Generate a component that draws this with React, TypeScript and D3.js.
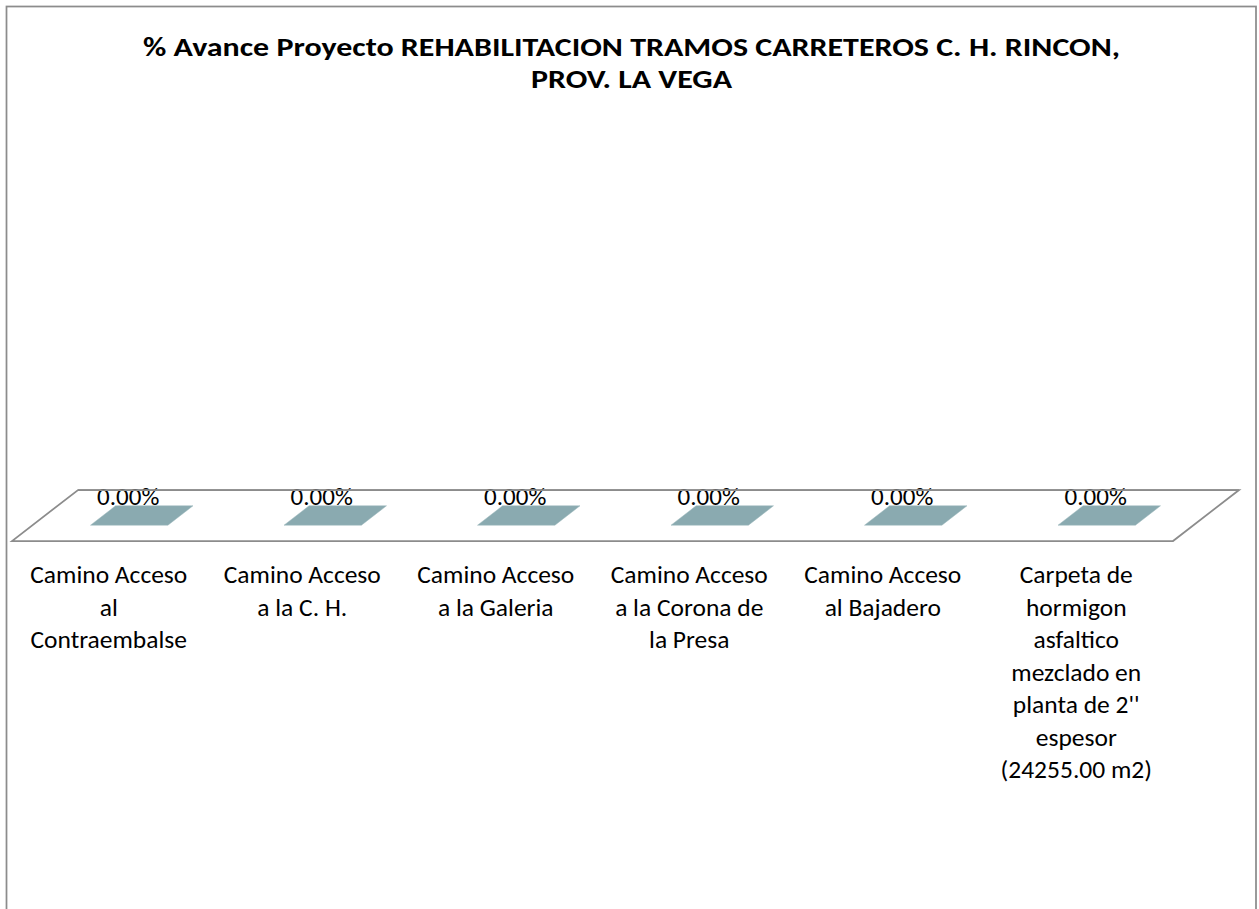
import React from "react";
import * as d3 from "d3";

const titleLines = [
  "% Avance Proyecto REHABILITACION TRAMOS CARRETEROS C. H. RINCON,",
  "PROV. LA VEGA",
];
const titleWidths = [977, 201];

const categories = [
  "Camino Acceso\nal\nContraembalse",
  "Camino Acceso\na la C. H.",
  "Camino Acceso\na la Galeria",
  "Camino Acceso\na la Corona de\nla Presa",
  "Camino Acceso\nal Bajadero",
  "Carpeta de\nhormigon\nasfaltico\nmezclado en\nplanta de 2''\nespesor\n(24255.00 m2)",
];

const values = [0, 0, 0, 0, 0, 0];

const W = 1259;
const H = 909;
const DX = 66;
const DY = -51;
const D0 = 0.31;
const D1 = 0.69;
const FONT = "Carlito, Calibri, Lato, sans-serif";

export default function App() {
  const x = d3.scaleBand<string>().domain(categories).range([12, 1173]).paddingInner(0).paddingOuter(0);
  const y = d3.scaleLinear().domain([0, 1]).range([541, 160]);
  const fmt = d3.format(".2%");
  const bw = x.bandwidth();
  const y0 = y(0);

  const floor = [
    [x.range()[0], y0],
    [x.range()[1], y0],
    [x.range()[1] + DX, y0 + DY],
    [x.range()[0] + DX, y0 + DY],
  ];
  const line = d3.line();

  return (
    <svg width={W} height={H} style={{ position: "absolute", left: 0, top: 0, background: "#fff" }}>
      <rect x={0} y={0} width={W} height={H} fill="#fff" />
      <rect x={6.5} y={6.5} width={1249.5} height={960} fill="none" stroke="#8c8c8c" strokeWidth={1.75} />
      {titleLines.map((t, i) => (
        <text
          key={i}
          x={631.5}
          y={56 + i * 31.5}
          textAnchor="middle"
          fontFamily={FONT}
          fontWeight="bold"
          fontSize={26}
          fill="#000"
          textLength={titleWidths[i]}
          lengthAdjust="spacingAndGlyphs"
        >
          {t}
        </text>
      ))}
      <path d={line(floor as [number, number][]) + "Z"} fill="none" stroke="#8c8c8c" strokeWidth={1.75} />
      {categories.map((c, i) => {
        const v = values[i];
        const x0 = (x(c) as number) + bw * 0.3;
        const x1 = x0 + bw * 0.4;
        const yv = y(v);
        const top: [number, number][] = [
          [x0 + D0 * DX, yv + D0 * DY],
          [x1 + D0 * DX, yv + D0 * DY],
          [x1 + D1 * DX, yv + D1 * DY],
          [x0 + D1 * DX, yv + D1 * DY],
        ];
        const front: [number, number][] = [
          [x0 + D0 * DX, yv + D0 * DY],
          [x1 + D0 * DX, yv + D0 * DY],
          [x1 + D0 * DX, y0 + D0 * DY],
          [x0 + D0 * DX, y0 + D0 * DY],
        ];
        const side: [number, number][] = [
          [x1 + D0 * DX, yv + D0 * DY],
          [x1 + D1 * DX, yv + D1 * DY],
          [x1 + D1 * DX, y0 + D1 * DY],
          [x1 + D0 * DX, y0 + D0 * DY],
        ];
        return (
          <g key={i}>
            <path d={line(front) + "Z"} fill="#7f9ea5" />
            <path d={line(side) + "Z"} fill="#6f8d94" />
            <path d={line(top) + "Z"} fill="#8aaab0" stroke="#9db8bd" strokeWidth={0.5} />
          </g>
        );
      })}
      {categories.map((c, i) => {
        const cx = (x(c) as number) + bw / 2 + D0 * DX;
        const yl = y(values[i]) + D0 * DY - 20;
        return (
          <text key={"l" + i} x={cx - 1} y={yl} textAnchor="middle" fontFamily={FONT} fontSize={25} fill="#000">
            {fmt(values[i])}
          </text>
        );
      })}
      <line x1={x.range()[0] + DX} x2={x.range()[1] + DX} y1={y0 + DY} y2={y0 + DY} stroke="#8c8c8c" strokeWidth={1.75} />
      {categories.map((c, i) => {
        const cx = (x(c) as number) + bw / 2;
        return (
          <text key={"c" + i} x={cx} y={583} textAnchor="middle" fontFamily={FONT} fontSize={25.5} fill="#000">
            {c.split("\n").map((ln, j) => (
              <tspan key={j} x={cx} y={583 + j * 32.5}>
                {ln}
              </tspan>
            ))}
          </text>
        );
      })}
    </svg>
  );
}
